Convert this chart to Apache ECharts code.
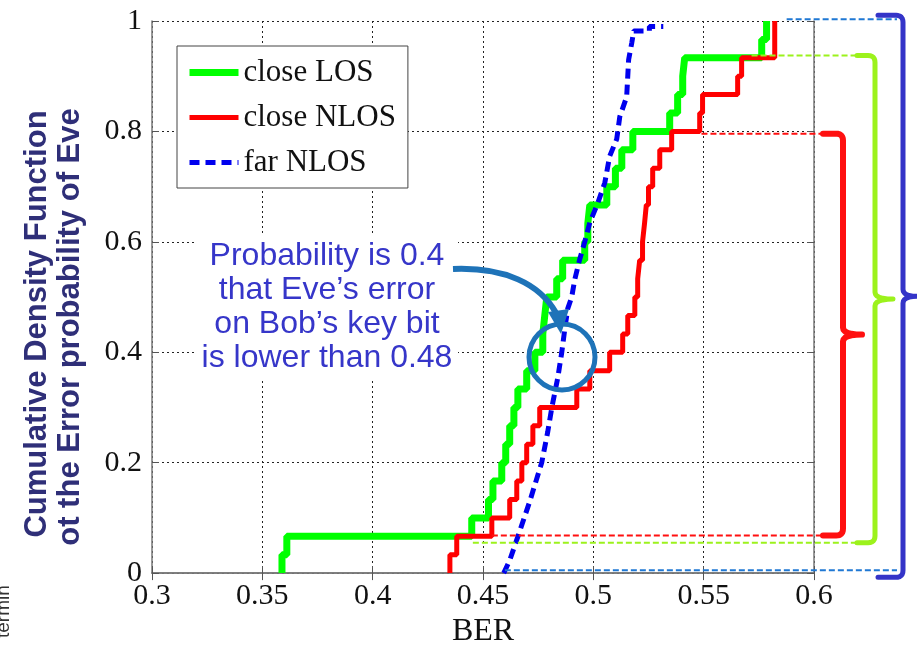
<!DOCTYPE html>
<html>
<head>
<meta charset="utf-8">
<script src="https://cdn.jsdelivr.net/npm/echarts@6/dist/echarts.min.js"></script>
<style>
html, body { margin: 0; padding: 0; background: #fff; }
#chart { width: 917px; height: 653px; }
</style>
</head>
<body>
<div id="chart"></div>
<script>
// CDF of Eve's bit error rate
// each point: [BER, CDF value after the jump]
const seriesNames = ['close LOS', 'close NLOS', 'far NLOS']

const closeLOS = [
  [0.3589, 0], [0.3589, 0.0333], [0.3611, 0.0667], [0.4449, 0.1], [0.4525, 0.1333],
  [0.4545, 0.1667], [0.4585, 0.2], [0.4603, 0.2333], [0.4621, 0.2667], [0.4640, 0.3],
  [0.4658, 0.3333], [0.4698, 0.3667], [0.4735, 0.4], [0.4771, 0.4333], [0.4780, 0.4667],
  [0.4789, 0.5], [0.4834, 0.5333], [0.4861, 0.5667], [0.4961, 0.6], [0.4975, 0.6333],
  [0.4984, 0.6667], [0.5061, 0.7], [0.5100, 0.7333], [0.5129, 0.7667], [0.5179, 0.8],
  [0.5346, 0.8333], [0.5382, 0.8667], [0.5405, 0.9], [0.5414, 0.9333], [0.5763, 0.9667],
  [0.5785, 1]
]

const closeNLOS = [
  [0.4350, 0], [0.4350, 0.0333], [0.4381, 0.0667], [0.4540, 0.1], [0.4621, 0.1333],
  [0.4653, 0.1667], [0.4676, 0.2], [0.4698, 0.2333], [0.4726, 0.2667], [0.4757, 0.3],
  [0.4925, 0.3333], [0.4984, 0.3667], [0.5074, 0.4], [0.5133, 0.4333], [0.5156, 0.4667],
  [0.5188, 0.5], [0.5201, 0.5333], [0.5210, 0.5667], [0.5223, 0.6], [0.5232, 0.6333],
  [0.5240, 0.6667], [0.5250, 0.7], [0.5269, 0.7333], [0.5301, 0.7667], [0.5355, 0.8],
  [0.5482, 0.8333], [0.5495, 0.8667], [0.5654, 0.9], [0.5672, 0.9333], [0.5822, 1]
]

const farNLOS = [
  [0.4594, 0], [0.4621, 0.023], [0.4658, 0.066], [0.4712, 0.13], [0.4766, 0.2],
  [0.4793, 0.255], [0.4812, 0.3], [0.4839, 0.354], [0.4857, 0.4], [0.4871, 0.443],
  [0.4884, 0.479], [0.4902, 0.5], [0.4916, 0.532], [0.4938, 0.568], [0.4961, 0.6],
  [0.4984, 0.635], [0.5020, 0.67], [0.5052, 0.707], [0.5074, 0.755], [0.5106, 0.786],
  [0.5120, 0.827], [0.5151, 0.8625], [0.5160, 0.93], [0.5174, 0.96], [0.5183, 0.982],
  [0.5254, 0.982], [0.5254, 0.99], [0.5317, 0.99]
]

// dashed guides on the right: [CDF bottom, CDF top] and BER where each guide starts
const losGuide = [0.055, 0.9375]
const losGuideStart = [0.4454, 0.5717]
const nlosGuide = [0.068, 0.796]
const nlosGuideStart = [0.454, 0.549]
const farGuide = [0.005, 1.003]
const farGuideStart = [0.4599, 0.5876]

const serif = "'Liberation Serif', 'DejaVu Serif', serif"
const sans = "'Liberation Sans', Arial, sans-serif"

const chart = echarts.init(document.getElementById('chart'))

const option = {
  animation: false,
  backgroundColor: '#fff',
  grid: { left: 152, right: 103, top: 21, bottom: 70 },
  legend: {
    orient: 'vertical',
    left: 177,
    top: 46,
    padding: [11, 12, 10, 9],
    itemGap: 14,
    itemWidth: 49,
    itemHeight: 14,
    backgroundColor: '#fff',
    borderColor: '#444',
    borderWidth: 1,
    itemStyle: { opacity: 0 },
    textStyle: { fontFamily: serif, fontSize: 31, color: '#111', lineHeight: 28 },
    data: [
      { name: seriesNames[0], lineStyle: { width: 7 } },
      { name: seriesNames[1], lineStyle: { width: 5 } },
      { name: seriesNames[2], lineStyle: { width: 5, type: [10, 6] } }
    ]
  },
  xAxis: [{
    type: 'value',
    min: 0.3,
    max: 0.6,
    interval: 0.05,
    name: 'BER',
    nameLocation: 'middle',
    nameGap: 37,
    nameTextStyle: { fontFamily: serif, fontSize: 32, color: '#111' },
    axisLine: { show: true, onZero: false, lineStyle: { color: '#777', width: 1.5 } },
    axisTick: { inside: true, length: 7, lineStyle: { color: '#555' } },
    axisLabel: { fontFamily: serif, fontSize: 30, color: '#111', margin: 8 },
    splitLine: { show: true, lineStyle: { color: '#222', width: 1, type: [2, 3] } }
  }, {
    type: 'value',
    position: 'top',
    min: 0.3,
    max: 0.6,
    interval: 0.05,
    axisLine: { show: true, lineStyle: { color: '#777', width: 1.5 } },
    axisTick: { inside: true, length: 7, lineStyle: { color: '#555' } },
    axisLabel: { show: false },
    splitLine: { show: false }
  }],
  yAxis: [{
    type: 'value',
    min: 0,
    max: 1,
    interval: 0.2,
    axisLine: { show: true, onZero: false, lineStyle: { color: '#777', width: 1.5 } },
    axisTick: { inside: true, length: 7, lineStyle: { color: '#555' } },
    axisLabel: { fontFamily: serif, fontSize: 30, color: '#111', margin: 10 },
    splitLine: { show: true, lineStyle: { color: '#222', width: 1, type: [2, 3] } }
  }, {
    type: 'value',
    position: 'right',
    min: 0,
    max: 1,
    interval: 0.2,
    axisLine: { show: true, lineStyle: { color: '#777', width: 1.5 } },
    axisTick: { inside: true, length: 7, lineStyle: { color: '#555' } },
    axisLabel: { show: false },
    splitLine: { show: false }
  }],
  series: [{
    name: seriesNames[0],
    type: 'line',
    step: 'end',
    data: closeLOS,
    showSymbol: false,
    symbol: 'none',
    color: '#00ff00',
    lineStyle: { width: 7, color: '#00ff00' },
    z: 3
  }, {
    name: seriesNames[1],
    type: 'line',
    step: 'end',
    data: closeNLOS,
    showSymbol: false,
    symbol: 'none',
    color: '#ff0000',
    lineStyle: { width: 5, color: '#ff0000' },
    z: 4
  }, {
    name: seriesNames[2],
    type: 'line',
    data: farNLOS,
    showSymbol: false,
    symbol: 'none',
    color: '#0000ee',
    lineStyle: { width: 5, color: '#0000ee', type: [10, 6] },
    z: 5
  }]
}

chart.setOption(option)

function px (x, y) {
  return chart.convertToPixel({ xAxisIndex: 0, yAxisIndex: 0 }, [x, y])
}

function dashed (x0, y, x1, color) {
  return {
    type: 'line',
    z: 20,
    shape: { x1: x0, y1: y, x2: x1, y2: y },
    style: { stroke: color, lineWidth: 2, lineDash: [6, 3] }
  }
}

// sample a quadratic curve into points (graphic has no free path type)
function quad (p0, c, p1) {
  const pts = []
  for (let i = 1; i <= 6; i++) {
    const t = i / 6
    const a = (1 - t) * (1 - t)
    const b = 2 * (1 - t) * t
    const d = t * t
    pts.push([a * p0[0] + b * c[0] + d * p1[0], a * p0[1] + b * c[1] + d * p1[1]])
  }
  return pts
}

// curly bracket: hooks to the left at both ends, tip to the right in the middle
function brace (x0, xs, yTop, yBot, xTip, color, w) {
  const yMid = (yTop + yBot) / 2
  const r = 7
  let pts = [[x0, yTop], [xs - r, yTop]]
  pts = pts.concat(quad([xs - r, yTop], [xs, yTop], [xs, yTop + r]))
  pts.push([xs, yMid - r])
  pts = pts.concat(quad([xs, yMid - r], [xs, yMid], [xTip, yMid]))
  pts = pts.concat(quad([xTip, yMid], [xs, yMid], [xs, yMid + r]))
  pts.push([xs, yBot - r])
  pts = pts.concat(quad([xs, yBot - r], [xs, yBot], [xs - r, yBot]))
  pts.push([x0, yBot])
  return {
    type: 'polyline',
    z: 20,
    shape: { points: pts },
    style: { stroke: color, lineWidth: w, fill: null, lineCap: 'round', lineJoin: 'round' }
  }
}

function rotatedText (x, y, text, font, fill, align) {
  return {
    type: 'text',
    z: 16,
    x: x,
    y: y,
    rotation: Math.PI / 2,
    style: {
      text: text,
      font: font,
      fill: fill,
      align: align,
      verticalAlign: 'middle',
      textAlign: align,
      textVerticalAlign: 'middle'
    }
  }
}

const losLo = px(losGuideStart[0], losGuide[0])
const losHi = px(losGuideStart[1], losGuide[1])
const nlosLo = px(nlosGuideStart[0], nlosGuide[0])
const nlosHi = px(nlosGuideStart[1], nlosGuide[1])
const farLo = px(farGuideStart[0], farGuide[0])
const farHi = px(farGuideStart[1], farGuide[1])

const lime = '#9cf21c'
const red = '#ff1010'
const lightBlue = '#1f78d4'
const arrowBlue = '#1e73b8'

chart.setOption({
  graphic: [
    dashed(losLo[0], losLo[1], 857, lime),
    dashed(losHi[0], losHi[1], 857, lime),
    dashed(nlosLo[0], nlosLo[1], 823, red),
    dashed(nlosHi[0], nlosHi[1], 823, red),
    dashed(farLo[0], farLo[1], 897, lightBlue),
    dashed(farHi[0], farHi[1], 897, lightBlue),
    brace(857, 875, losHi[1], losLo[1], 893, lime, 5),
    brace(823, 843, nlosHi[1], nlosLo[1], 862, red, 6),
    brace(878, 903, farHi[1] - 4, farLo[1] + 7, 917, '#3434c8', 5),
    {
      type: 'rect',
      z: 15,
      shape: { x: 196, y: 233, width: 262, height: 147 },
      style: { fill: '#fff' }
    },
    {
      type: 'text',
      z: 16,
      x: 327,
      y: 307,
      style: {
        text: 'Probability is 0.4\nthat Eve’s error\non Bob’s key bit\nis lower than 0.48',
        font: '32px ' + sans,
        fill: '#3636c9',
        align: 'center',
        verticalAlign: 'middle',
        textAlign: 'center',
        textVerticalAlign: 'middle',
        lineHeight: 34
      }
    },
    {
      type: 'bezierCurve',
      z: 21,
      shape: { x1: 453, y1: 269, cpx1: 505, cpy1: 267, cpx2: 540, cpy2: 284, x2: 556, y2: 313 },
      style: { stroke: arrowBlue, lineWidth: 6, fill: null }
    },
    {
      type: 'polygon',
      z: 21,
      shape: { points: [[548, 312], [569, 309], [561, 334]] },
      style: { fill: arrowBlue }
    },
    {
      type: 'circle',
      z: 21,
      shape: { cx: 562, cy: 357, r: 33 },
      style: { stroke: arrowBlue, lineWidth: 5, fill: null }
    },
    rotatedText(37, 324, 'Cumulative Density Function', 'bold 31px ' + sans, '#2f2f78', 'center'),
    rotatedText(70, 327, 'ot the Error probability of Eve', 'bold 31px ' + sans, '#2f2f78', 'center'),
    rotatedText(4, 638, 'termin', '19px ' + sans, '#333', 'left')
  ]
})
</script>
</body>
</html>
